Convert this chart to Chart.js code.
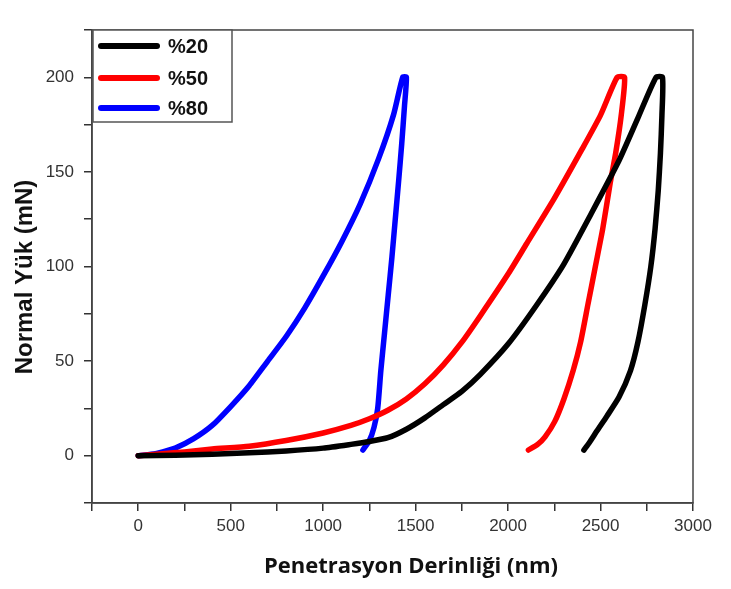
<!DOCTYPE html>
<html><head><meta charset="utf-8">
<script src="https://cdn.jsdelivr.net/npm/chart.js@4"></script>
<style>html,body{margin:0;padding:0;background:#fff}</style>
</head><body>
<canvas id="c" width="731" height="589"></canvas>
<script>
// ---- Data ----
const seriesLabels = ['%20', '%50', '%80'];
const seriesColors = ['#000000', '#ff0000', '#0000ff'];

// %20
const depth20 = [0,200,400,600,800,1000,1150,1250,1350,1450,1550,1650,1750,1850,2000,2150,2300,2450,2600,2700,2800,2835,2832,2824,2812,2795,2772,2740,2702,2662,2600,2535,2480,2440,2410];
const load20  = [0,0.3,0.8,1.5,2.5,4,6,7.5,9.5,14,20,27,34,43,59,79,101,128,156,178,200,200,180,160,140,120,100,80,60,45,31,21,13,7,3];

// %50
const depth50 = [0,100,250,400,600,800,1000,1150,1250,1350,1450,1550,1650,1750,1850,2000,2100,2250,2400,2500,2590,2630,2612,2582,2552,2512,2472,2432,2392,2352,2302,2252,2200,2160,2110];
const load50  = [0,0.8,2,3.5,5,8,12,16,19.5,24,30,38,48,60,74,96,112,136,162,180,200,200,180,160,144,120,100,80,60,45,30,18,10,6,3];

// %80
const depth80 = [0,50,100,200,300,400,500,600,700,800,900,1000,1100,1200,1300,1380,1430,1450,1440,1425,1408,1390,1372,1352,1332,1312,1295,1275,1250,1215];
const load80  = [0,0.5,1.2,4,9,16,26,37,50,63,78,95,113,133,157,180,200,200,185,165,145,125,105,85,65,45,25,15,8,3];

const xTickMin = -250, xTickMax = 3000, xStep = 250, xLabelEvery = 500;
const yTickMin = -25, yTickMax = 225, yStep = 25, yLabelEvery = 50;
const xTitle = 'Penetrasyon Derinliği (nm)';
const yTitle = 'Normal Yük (mN)';

const depths = [depth20, depth50, depth80];
const loads = [load20, load50, load80];

const datasets = seriesLabels.map((lab, i) => ({
  label: lab,
  data: depths[i].map((d, j) => ({x: d, y: loads[i][j]})),
  borderColor: seriesColors[i],
  backgroundColor: seriesColors[i],
  borderWidth: 5.5,
  pointRadius: 0,
  showLine: true,
  tension: 0.2,
  borderCapStyle: 'round',
  borderJoinStyle: 'round'
}));

const tickFont = {family: '"Liberation Sans", Arial, sans-serif', size: 17};
const axisColor = '#333';

const framePlugin = {
  id: 'frame',
  afterDraw(chart) {
    const {ctx, chartArea: a} = chart;
    ctx.save();
    ctx.strokeStyle = '#444';
    ctx.lineWidth = 1.5;
    ctx.strokeRect(a.left, a.top, a.right - a.left, a.bottom - a.top);
    ctx.restore();
  }
};

const legendPlugin = {
  id: 'boxLegend',
  afterDraw(chart) {
    const {ctx, chartArea: a} = chart;
    const x0 = a.left + 1, y0 = a.top, w = 139, h = 92;
    ctx.save();
    ctx.fillStyle = '#fff';
    ctx.fillRect(x0, y0, w, h);
    ctx.strokeStyle = '#555';
    ctx.lineWidth = 1.5;
    ctx.strokeRect(x0, y0, w, h);
    const rows = [16, 48, 78];
    chart.data.datasets.forEach((ds, i) => {
      const y = y0 + rows[i];
      ctx.strokeStyle = ds.borderColor;
      ctx.lineWidth = 6;
      ctx.lineCap = 'round';
      ctx.beginPath();
      ctx.moveTo(x0 + 8, y);
      ctx.lineTo(x0 + 64, y);
      ctx.stroke();
      ctx.fillStyle = '#111';
      ctx.font = 'bold 20px "Liberation Sans", Arial, sans-serif';
      ctx.textBaseline = 'middle';
      ctx.textAlign = 'left';
      ctx.fillText(ds.label, x0 + 75, y + 1);
    });
    ctx.restore();
  }
};

const titlePlugin = {
  id: 'axisTitles',
  afterDraw(chart) {
    const {ctx} = chart;
    ctx.save();
    ctx.fillStyle = '#111';
    ctx.textAlign = 'center';
    ctx.textBaseline = 'middle';
    ctx.font = 'bold 22px "Open Sans", sans-serif';
    ctx.fillText(xTitle, 411, 567);
    ctx.translate(25, 277);
    ctx.rotate(-Math.PI / 2);
    ctx.font = 'bold 24px "Liberation Sans", Arial, sans-serif';
    ctx.fillText(yTitle, 0, 0);
    ctx.restore();
  }
};

new Chart(document.getElementById('c'), {
  type: 'scatter',
  data: {datasets},
  options: {
    responsive: false,
    animation: false,
    layout: {padding: {top: 30, right: 38, left: 0, bottom: 0}},
    plugins: {legend: {display: false}, tooltip: {enabled: false}},
    scales: {
      x: {
        type: 'linear', min: xTickMin, max: xTickMax,
        ticks: {stepSize: xStep, autoSkip: false, maxRotation: 0, font: tickFont, color: axisColor, padding: 5,
          callback: v => (v % xLabelEvery === 0 ? String(v) : '')},
        grid: {drawOnChartArea: false, tickLength: 8, color: axisColor, lineWidth: 1.5},
        border: {color: '#444', width: 1.5},
        afterFit(s) { s.height = 86; }
      },
      y: {
        type: 'linear', min: yTickMin, max: yTickMax,
        ticks: {stepSize: yStep, autoSkip: false, font: tickFont, color: axisColor, padding: 10,
          callback: v => (v % yLabelEvery === 0 ? String(v) : '')},
        grid: {drawOnChartArea: false, tickLength: 8, color: axisColor, lineWidth: 1.5},
        border: {color: '#444', width: 1.5},
        afterFit(s) { s.width = 92; }
      }
    }
  },
  plugins: [framePlugin, legendPlugin, titlePlugin]
});
</script>
</body></html>
